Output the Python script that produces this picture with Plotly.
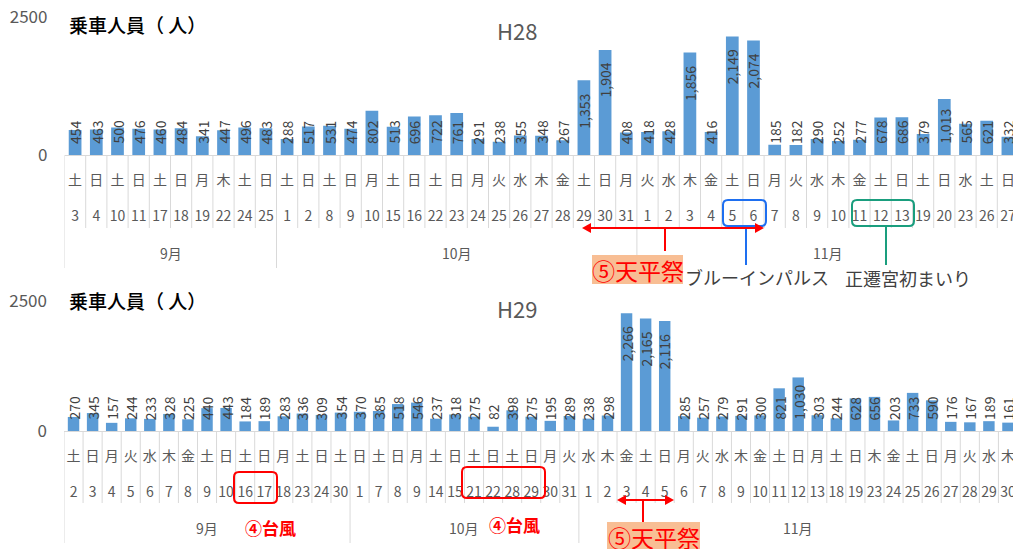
import plotly.graph_objects as go

W, H = 1013, 549
FONT = "Noto Sans CJK JP"

# ---------------- data ----------------
h28_months = ["9月", "10月", "11月"]
h28_month_counts = [10, 17, 18]
h28_days = [3, 4, 10, 11, 17, 18, 19, 22, 24, 25,
            1, 2, 8, 9, 10, 15, 16, 22, 23, 24, 25, 26, 27, 28, 29, 30, 31,
            1, 2, 3, 4, 5, 6, 7, 8, 9, 10, 11, 12, 13, 19, 20, 23, 26, 27]
h28_weekdays = ["土", "日", "土", "日", "土", "日", "月", "木", "土", "日",
                "土", "日", "土", "日", "月", "土", "日", "土", "日", "月", "火", "水", "木", "金", "土", "日", "月",
                "火", "水", "木", "金", "土", "日", "月", "火", "水", "木", "金", "土", "日", "土", "日", "水", "土", "日"]
h28_values = [454, 463, 500, 476, 460, 484, 341, 447, 496, 483,
              288, 517, 531, 474, 802, 513, 696, 722, 761, 291, 238, 355, 348, 267, 1353, 1904, 408,
              418, 428, 1856, 416, 2149, 2074, 185, 182, 290, 252, 277, 678, 686, 379, 1013, 565, 621, 332]

h29_months = ["9月", "10月", "11月"]
h29_month_counts = [15, 12, 23]
h29_days = [2, 3, 4, 5, 6, 7, 8, 9, 10, 16, 17, 18, 23, 24, 30,
            1, 7, 8, 9, 14, 15, 21, 22, 28, 29, 30, 31,
            1, 2, 3, 4, 5, 6, 7, 8, 9, 10, 11, 12, 13, 18, 19, 23, 24, 25, 26, 27, 28, 29, 30]
h29_weekdays = ["土", "日", "月", "火", "水", "木", "金", "土", "日", "土", "日", "月", "土", "日", "土",
                "日", "土", "日", "月", "土", "日", "土", "日", "土", "日", "月", "火",
                "水", "木", "金", "土", "日", "月", "火", "水", "木", "金", "土", "日", "月", "土", "日", "木", "金", "土", "日", "月", "火", "水", "木"]
h29_values = [270, 345, 157, 244, 233, 328, 225, 440, 443, 184, 189, 283, 336, 309, 354,
              370, 385, 518, 546, 237, 318, 275, 82, 398, 275, 195, 289,
              238, 298, 2266, 2165, 2116, 285, 257, 279, 291, 300, 821, 1030, 303, 244, 628, 656, 203, 733, 590, 176, 167, 189, 161]

y_max = 2500
y_title = "乗車人員（ 人）"

# ---------------- layout geometry (pixels) ----------------
panels = [
    dict(name="H28", months=h28_months, counts=h28_month_counts, days=h28_days, wds=h28_weekdays,
         vals=h28_values, x0=64.5, pitch=21.2, base=155, top=17, daybot=228, monbot=268,
         month_y=253, title_y=24, name_y=30, xa="x", ya="y"),
    dict(name="H29", months=h29_months, counts=h29_month_counts, days=h29_days, wds=h29_weekdays,
         vals=h29_values, x0=64, pitch=19.07, base=431, top=301, daybot=503, monbot=543,
         month_y=528, title_y=300, name_y=308, xa="x2", ya="y2"),
]

def PX(p):
    return p / W

def PY(p):
    return 1 - p / H

BAR = "#5B9BD5"
GRID = "#D9D9D9"
GRAY = "#595959"

fig = go.Figure()
annotations = []
shapes = []
layout_axes = {}

for k, P in enumerate(panels):
    n = len(P["vals"])
    xs = list(range(n))
    fig.add_trace(go.Bar(x=xs, y=P["vals"], marker=dict(color=BAR, line=dict(width=0)),
                         width=0.6, xaxis=P["xa"], yaxis=P["ya"], showlegend=False,
                         hoverinfo="x+y"))
    xr_end = -0.5 + (W - P["x0"]) / P["pitch"]
    suffix = "" if k == 0 else "2"
    layout_axes["xaxis" + suffix] = dict(
        domain=[P["x0"] / W, 1], range=[-0.5, xr_end], anchor=P["ya"],
        tickmode="array", tickvals=xs,
        ticktext=[f"{w}<br><br>{d}" for w, d in zip(P["wds"], P["days"])],
        tickfont=dict(family=FONT, size=14, color=GRAY), tickangle=0,
        showgrid=False, zeroline=False, showline=True, linecolor=GRID, linewidth=1,
        ticks="", ticklabelstandoff=12, ticklabeloverflow="allow", automargin=False,
        fixedrange=True)
    layout_axes["yaxis" + suffix] = dict(
        domain=[PY(P["base"]), PY(P["top"])], range=[0, y_max], anchor=P["xa"],
        tickmode="array", tickvals=[0, y_max], ticktext=["0", str(y_max)],
        tickfont=dict(family=FONT, size=17, color=GRAY),
        showgrid=True, gridcolor=GRID, gridwidth=1, zeroline=False, showline=False,
        ticks="", ticklabelstandoff=16, automargin=False, fixedrange=True)

    ppu = (P["base"] - P["top"]) / y_max  # px per unit
    for i, v in enumerate(P["vals"]):
        txt = f"{v:,}"
        L = 7.8 * sum(c.isdigit() for c in txt) + 3.5 * txt.count(",")
        if v * ppu - 12 >= 10 + L:
            yy, ya_ = v - 12 / ppu, "top"
        else:
            yy, ya_ = 10 / ppu, "bottom"
        annotations.append(dict(x=i, y=yy, xref=P["xa"], yref=P["ya"], text=txt, textangle=-90,
                                showarrow=False, xanchor="center", yanchor=ya_, borderpad=0,
                                font=dict(family=FONT, size=14, color="#404040")))

    # dividers
    month_starts = []
    s = 0
    for c in P["counts"]:
        month_starts.append(s)
        s += c
    for i in range(n):
        bottom = P["monbot"] if i in month_starts else P["daybot"]
        shapes.append(dict(type="line", xref=P["xa"], yref="paper", x0=i - 0.5, x1=i - 0.5,
                           y0=PY(P["base"]), y1=PY(bottom), line=dict(color=GRID, width=1),
                           layer="below"))
    # month labels
    for m, st, c in zip(P["months"], month_starts, P["counts"]):
        annotations.append(dict(x=st + (c - 1) / 2, y=PY(P["month_y"]), xref=P["xa"], yref="paper",
                                text=m, showarrow=False, xanchor="center", yanchor="middle",
                                font=dict(family=FONT, size=14, color=GRAY)))
    # titles
    annotations.append(dict(x=PX(67), y=PY(P["title_y"]), xref="paper", yref="paper", text=y_title,
                            showarrow=False, xanchor="left", yanchor="middle",
                            font=dict(family=FONT, size=19, color="#000000", weight=500)))
    annotations.append(dict(x=PX(517), y=PY(P["name_y"]), xref="paper", yref="paper", text=P["name"],
                            showarrow=False, xanchor="center", yanchor="middle",
                            font=dict(family=FONT, size=22, color=GRAY)))

# ---------------- callouts ----------------
def rrect(x0, y0, x1, y1, color, r=5, width=2):
    path = (f"M {PX(x0 + r)},{PY(y0)} L {PX(x1 - r)},{PY(y0)} Q {PX(x1)},{PY(y0)} {PX(x1)},{PY(y0 + r)} "
            f"L {PX(x1)},{PY(y1 - r)} Q {PX(x1)},{PY(y1)} {PX(x1 - r)},{PY(y1)} "
            f"L {PX(x0 + r)},{PY(y1)} Q {PX(x0)},{PY(y1)} {PX(x0)},{PY(y1 - r)} "
            f"L {PX(x0)},{PY(y0 + r)} Q {PX(x0)},{PY(y0)} {PX(x0 + r)},{PY(y0)} Z")
    return dict(type="path", path=path, xref="paper", yref="paper",
                line=dict(color=color, width=width), layer="above")

def vline(x, y0, y1, color, width=2):
    return dict(type="line", xref="paper", yref="paper", x0=PX(x), x1=PX(x), y0=PY(y0), y1=PY(y1),
                line=dict(color=color, width=width), layer="above")

def darrow(x0, x1, y, color, hl=9, hw=5):
    out = [dict(type="line", xref="paper", yref="paper", x0=PX(x0 + hl - 1), x1=PX(x1 - hl + 1),
                y0=PY(y), y1=PY(y), line=dict(color=color, width=2), layer="above")]
    for tip, back in ((x0, x0 + hl), (x1, x1 - hl)):
        out.append(dict(type="path", xref="paper", yref="paper",
                        path=f"M {PX(tip)},{PY(y)} L {PX(back)},{PY(y - hw)} L {PX(back)},{PY(y + hw)} Z",
                        fillcolor=color, line=dict(color=color, width=0), layer="above"))
    return out

def bgbox(x0, y0, x1, y1, color):
    return dict(type="rect", xref="paper", yref="paper", x0=PX(x0), x1=PX(x1), y0=PY(y0), y1=PY(y1),
                fillcolor=color, line=dict(width=0), layer="above")

RED = "#FF0000"
BLUE = "#1E6FF0"
GREEN = "#1A9E7E"
PEACH = "#F8BE94"

# top chart
shapes.append(rrect(723, 200, 766, 226, BLUE))
shapes.append(vline(746, 226, 265, BLUE))
shapes.append(rrect(852, 200, 914, 226, GREEN))
shapes.append(vline(886, 226, 265, GREEN))
shapes += darrow(582, 764, 228, RED)
shapes.append(vline(665, 228, 251, RED))
shapes.append(bgbox(592, 255, 683, 284, PEACH))
# bottom chart
shapes.append(rrect(234, 472, 277, 503, RED))
shapes.append(rrect(462, 467, 545, 498, RED))
shapes += darrow(617, 674, 500, RED)
shapes.append(vline(643, 500, 522, RED))
shapes.append(bgbox(607, 522, 700, 552, PEACH))

def label(x, y, text, size, color, xanchor="center", bold=False):
    t = f"<b>{text}</b>" if bold else text
    annotations.append(dict(x=PX(x), y=PY(y), xref="paper", yref="paper", text=t, showarrow=False,
                            xanchor=xanchor, yanchor="middle",
                            font=dict(family=FONT, size=size, color=color)))

label(637.5, 270, "⑤天平祭", 23, RED)
label(683, 277, "ブルーインパルス", 18, "#404040", xanchor="left")
label(843, 278, "正遷宮初まいり", 18, "#404040", xanchor="left")
label(270, 527, "④台風", 17, RED, bold=True)
label(514, 524, "④台風", 17, RED, bold=True)
label(653.5, 537, "⑤天平祭", 23, RED)

fig.update_layout(
    template="none",
    width=W, height=H, margin=dict(l=0, r=0, t=0, b=0, pad=0, autoexpand=False),
    paper_bgcolor="white", plot_bgcolor="white",
    bargap=0.4, showlegend=False,
    annotations=annotations, shapes=shapes,
    font=dict(family=FONT),
    **layout_axes,
)

fig.write_html("out.html", config={"displayModeBar": False})
